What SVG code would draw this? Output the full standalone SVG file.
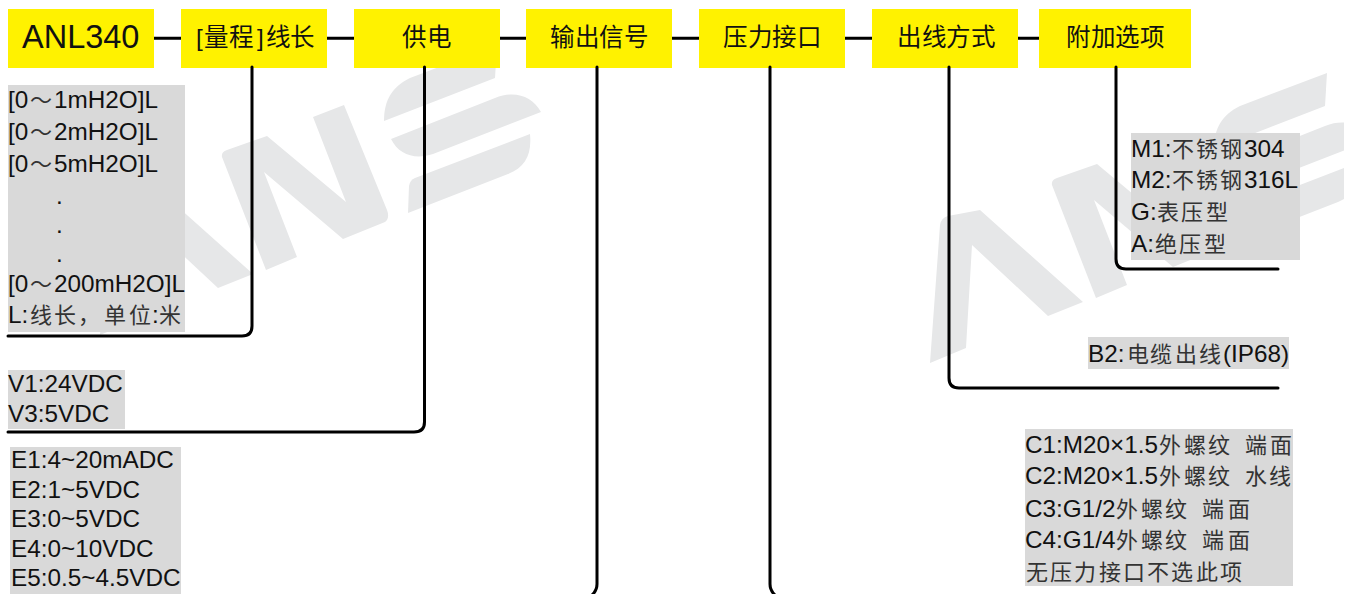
<svg xmlns="http://www.w3.org/2000/svg" width="1351" height="594" viewBox="0 0 1351 594">
<style>
text{font-family:"Liberation Sans","Noto Sans CJK SC",sans-serif;font-size:24.3px;fill:#111}
.c{font-family:"Noto Sans CJK SC",sans-serif;font-size:22px;fill:#333}
.h{font-family:"Noto Sans CJK SC",sans-serif;font-size:24.5px;fill:#111}
.y{fill:#fff200}
.g{fill:#d9d9d9}
.w{fill:#e6e7e8}
.l{fill:none;stroke:#000;stroke-width:3;stroke-linecap:round}
</style>
<defs>
<clipPath id="cut"><rect x="0" y="0" width="1344" height="594"/></clipPath>
<g id="logo">
<path d="M100 335L110 197Q111 190 118 188L150 182L253 274L218 288L142 217L136 320Z"/>
<path d="M222 157Q221 152 227 150L267 136L346 202L313 117L344 105L387 210Q390 218 385 222L343 239L264 172L297 257L266 270Z"/>
<path d="M384 121C384 100 392 87 410 78L497 45L495 78Z"/>
<path d="M391 139L495 98C515 90 532 96 541 112L433 154C415 160 399 155 391 139Z"/>
<path d="M530 134C532 155 525 167 508 174L408 213L409 186Q410 180 415 178Z"/>
</g>
</defs>
<g id="watermark" class="w" clip-path="url(#cut)">
<use href="#logo"/>
<use href="#logo" x="830" y="28"/>
</g>
<g id="model"><rect class="y" x="8" y="9" width="146" height="59"/><text x="22" y="48" style="font-size:32.5px">ANL340</text></g>
<g id="range"><rect class="y" x="181" y="9" width="146" height="59"/><text y="46"><tspan x="196">[</tspan><tspan class="h" x="204 229">量程</tspan><tspan x="257">]</tspan><tspan class="h" x="266 290">线长</tspan></text></g>
<g id="power"><rect class="y" x="354" y="9" width="146" height="59"/><text class="h" x="402 427" y="46">供电</text></g>
<g id="output"><rect class="y" x="526" y="9" width="146" height="59"/><text class="h" x="550 575 599 624" y="46">输出信号</text></g>
<g id="port"><rect class="y" x="699" y="9" width="146" height="59"/><text class="h" x="723 748 772 797" y="46">压力接口</text></g>
<g id="cable"><rect class="y" x="872" y="9" width="146" height="59"/><text class="h" x="897 922 946 971" y="46">出线方式</text></g>
<g id="option"><rect class="y" x="1039" y="9" width="152" height="59"/><text class="h" x="1066 1091 1115 1140" y="46">附加选项</text></g>
<g id="range-list"><rect class="g" x="8" y="85" width="177" height="247"/>
<text y="108"><tspan x="8">[0</tspan><tspan class="c" x="30">～</tspan><tspan x="54">1mH2O]L</tspan></text>
<text y="140"><tspan x="8">[0</tspan><tspan class="c" x="30">～</tspan><tspan x="54">2mH2O]L</tspan></text>
<text y="172"><tspan x="8">[0</tspan><tspan class="c" x="30">～</tspan><tspan x="54">5mH2O]L</tspan></text>
<text x="56" y="204">.</text><text x="56" y="233">.</text><text x="56" y="262">.</text>
<text y="292"><tspan x="8">[0</tspan><tspan class="c" x="30">～</tspan><tspan x="54">200mH2O]L</tspan></text>
<text y="323"><tspan x="8">L:</tspan><tspan class="c" x="30 54 78 104 129">线长，单位</tspan><tspan x="152">:</tspan><tspan class="c" x="159">米</tspan></text></g>
<g id="power-list"><rect class="g" x="8" y="370" width="117" height="59"/><text x="8" y="392">V1:24VDC</text><text x="8" y="422">V3:5VDC</text></g>
<g id="output-list"><rect class="g" x="10" y="447" width="171" height="147"/><text x="11" y="468">E1:4~20mADC</text><text x="11" y="498">E2:1~5VDC</text><text x="11" y="527">E3:0~5VDC</text><text x="11" y="557">E4:0~10VDC</text><text x="11" y="586">E5:0.5~4.5VDC</text></g>
<g id="option-list"><rect class="g" x="1131" y="133" width="169" height="127"/>
<text y="157"><tspan x="1131">M1:</tspan><tspan class="c" x="1172 1196 1220">不锈钢</tspan><tspan x="1244">304</tspan></text>
<text y="188"><tspan x="1131">M2:</tspan><tspan class="c" x="1172 1196 1220">不锈钢</tspan><tspan x="1244">316L</tspan></text>
<text y="220"><tspan x="1131">G:</tspan><tspan class="c" x="1157 1181 1206">表压型</tspan></text>
<text y="252"><tspan x="1131">A:</tspan><tspan class="c" x="1155 1179 1204">绝压型</tspan></text></g>
<g id="cable-list"><rect class="g" x="1088" y="337" width="201" height="32"/>
<text y="362"><tspan x="1088">B2:</tspan><tspan class="c" x="1127 1150 1175 1199">电缆出线</tspan><tspan x="1223">(IP68)</tspan></text></g>
<g id="port-list"><rect class="g" x="1025" y="429" width="268" height="157"/>
<text y="453"><tspan x="1025">C1:M20×1.5</tspan><tspan class="c" x="1159 1184 1208 1245 1270">外螺纹端面</tspan></text>
<text y="484"><tspan x="1025">C2:M20×1.5</tspan><tspan class="c" x="1159 1184 1208 1245 1269">外螺纹水线</tspan></text>
<text y="517"><tspan x="1025">C3:G1/2</tspan><tspan class="c" x="1116 1141 1165 1202 1228">外螺纹端面</tspan></text>
<text y="548"><tspan x="1025">C4:G1/4</tspan><tspan class="c" x="1116 1141 1165 1202 1228">外螺纹端面</tspan></text>
<text class="c" x="1026 1050 1074 1099 1123 1147 1171 1196 1220" y="580">无压力接口不选此项</text></g>
<g id="connectors" class="l">
<path d="M154 38.300H181M327 38.300H354M500 38.300H526M672 38.300H699M845 38.300H872M1018 38.300H1039" style="stroke-linecap:butt"/>
<path d="M252 67V326Q252 336 242 336H8"/>
<path d="M424.500 67V422Q424.500 432 414 432H8"/>
<path d="M597 67V584Q597 591 591 596"/>
<path d="M770 67V584Q770 591 776 596"/>
<path d="M949 67V378Q949 388 959 388H1278"/>
<path d="M1116 67V259Q1116 269 1126 269H1278"/>
</g>
</svg>
